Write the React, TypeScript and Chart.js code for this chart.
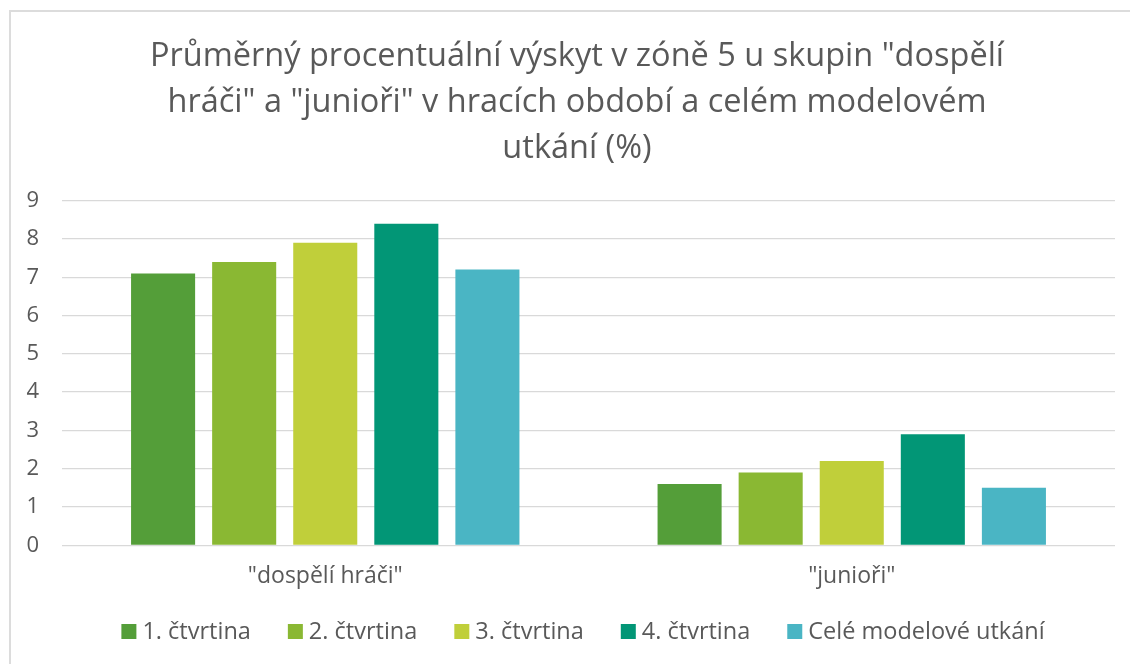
import React, { useEffect, useRef } from "react";
import { Chart, registerables } from "chart.js";

Chart.register(...registerables);

const categories = ['"dospělí hráči"', '"junioři"'];
const seriesNames = ["1. čtvrtina", "2. čtvrtina", "3. čtvrtina", "4. čtvrtina", "Celé modelové utkání"];
const q1 = [7.1, 1.6];
const q2 = [7.4, 1.9];
const q3 = [7.9, 2.2];
const q4 = [8.4, 2.9];
const whole = [7.2, 1.5];
const seriesColors = ["#549E39", "#8AB833", "#C0CF3A", "#029676", "#4AB5C4"];
const titleLines = [
  'Průměrný procentuální výskyt v zóně 5 u skupin "dospělí',
  'hráči" a "junioři" v hracích období a celém modelovém',
  "utkání (%)",
];
const yMin = 0;
const yMax = 9;
const yStep = 1;

const FONT = "'Open Sans', sans-serif";
const TEXT = "#595959";

// Title and legend drawn in the same canvas, positioned like the original chart
const textPlugin = {
  id: "titleLegend",
  afterDraw(chart: any) {
    const ctx = chart.ctx as CanvasRenderingContext2D;
    ctx.save();
    // title
    ctx.fillStyle = TEXT;
    ctx.font = `32.5px ${FONT}`;
    ctx.textAlign = "center";
    ctx.textBaseline = "alphabetic";
    const titleCenter = 577;
    const firstBaseline = 65.7;
    const pitch = 45.9;
    titleLines.forEach((line, i) => {
      ctx.fillText(line, titleCenter, firstBaseline + i * pitch);
    });
    // legend
    ctx.font = `23.5px ${FONT}`;
    ctx.textAlign = "left";
    const box = 15;
    const boxGap = 6;
    const itemGap = 37;
    const widths = seriesNames.map((n) => ctx.measureText(n).width);
    const total =
      widths.reduce((a, w) => a + box + boxGap + w, 0) + itemGap * (seriesNames.length - 1);
    const legendCenter = 583;
    const baseline = 639;
    let x = legendCenter - total / 2;
    seriesNames.forEach((name, i) => {
      ctx.fillStyle = seriesColors[i];
      ctx.fillRect(x, baseline - box, box, box);
      ctx.fillStyle = TEXT;
      ctx.fillText(name, x + box + boxGap, baseline);
      x += box + boxGap + widths[i] + itemGap;
    });
    ctx.restore();
  },
};

export default function App() {
  const ref = useRef<HTMLCanvasElement | null>(null);

  useEffect(() => {
    document.body.style.margin = "0";
    const values = [q1, q2, q3, q4, whole];
    const chart = new Chart(ref.current as HTMLCanvasElement, {
      type: "bar",
      data: {
        labels: categories,
        datasets: seriesNames.map((name, i) => ({
          label: name,
          data: values[i],
          backgroundColor: seriesColors[i],
          borderWidth: 0,
          barPercentage: 0.79,
          categoryPercentage: 0.77,
        })),
      },
      options: {
        animation: false,
        responsive: false,
        maintainAspectRatio: false,
        layout: { padding: { left: 0, right: 15, top: 200.7, bottom: 73.4 } },
        plugins: {
          title: { display: false },
          legend: { display: false },
          tooltip: { enabled: false },
        },
        scales: {
          x: {
            grid: { display: false, drawTicks: false },
            border: { display: false },
            ticks: { color: TEXT, font: { family: FONT, size: 23 }, padding: 17.7 },
            afterFit: (s: any) => {
              s.height = 45.3;
            },
          },
          y: {
            min: yMin,
            max: yMax,
            ticks: { stepSize: yStep, color: TEXT, font: { family: FONT, size: 22 }, padding: 23 },
            grid: { color: "#d9d9d9", lineWidth: 1.3, drawTicks: false },
            border: { display: false },
            afterFit: (s: any) => {
              s.width = 62;
            },
          },
        },
      },
      plugins: [textPlugin],
    });
    return () => chart.destroy();
  }, []);

  return (
    <div style={{ position: "relative", width: 1130, height: 664, overflow: "hidden", background: "#fff" }}>
      <div
        style={{
          position: "absolute",
          left: 9,
          top: 10,
          width: 2000,
          height: 2000,
          border: "2px solid #dcdcdc",
        }}
      />
      <canvas ref={ref} width={1130} height={664} style={{ position: "absolute", left: 0, top: 0 }} />
    </div>
  );
}
